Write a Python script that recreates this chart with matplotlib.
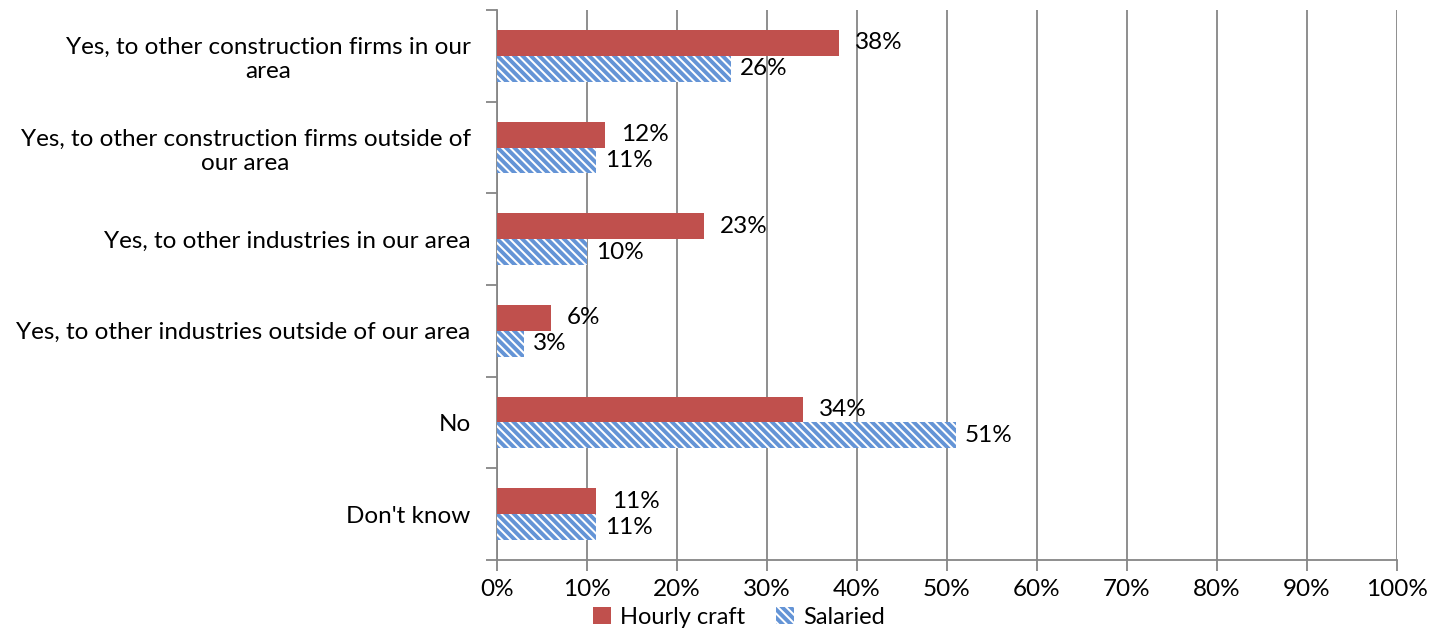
import numpy as np
import matplotlib.pyplot as plt
from matplotlib.ticker import FixedLocator, PercentFormatter

plt.rcParams['font.family'] = ['Lato', 'DejaVu Sans']
plt.rcParams['hatch.linewidth'] = 2.8

# survey answers, top to bottom
categories = ['Yes, to other construction firms in our\narea',
              'Yes, to other construction firms outside of\nour area',
              'Yes, to other industries in our area',
              'Yes, to other industries outside of our area',
              'No',
              "Don't know"]
hourly = [38, 12, 23, 6, 34, 11]
salaried = [26, 11, 10, 3, 51, 11]

red = '#C0504D'
blue = '#6494D6'
fs = 17.5

fig = plt.figure(figsize=(14.45, 6.32), dpi=100)
ax = fig.add_axes([497/1445, 1-560/632, 900/1445, 550/632])

n = len(categories)
y = np.arange(n)[::-1]
h = 0.283
ax.barh(y + h/2, hourly, height=h, color=red, zorder=3, label='Hourly craft')
ax.barh(y - h/2, salaried, height=h, color='white', edgecolor=blue, hatch='\\\\\\\\',
        linewidth=0, zorder=3, label='Salaried')

for yi, v in zip(y, hourly):
    ax.text(v + 1.8, yi + h/2, f'{v}%', va='center', ha='left', fontsize=fs)
for yi, v in zip(y, salaried):
    ax.text(v + 1.0, yi - h/2, f'{v}%', va='center', ha='left', fontsize=fs)

ax.set_xlim(0, 100)
ax.set_ylim(-0.5, n - 0.5)
ax.set_xticks(np.arange(0, 101, 10))
ax.xaxis.set_major_formatter(PercentFormatter(decimals=0))
ax.grid(axis='x', color='#868686', linewidth=1.3, zorder=0)

ax.set_yticks(y)
ax.set_yticklabels(categories, fontsize=fs, ha='right', multialignment='center')
ax.yaxis.set_major_locator(FixedLocator(y))
ax.yaxis.set_minor_locator(FixedLocator(np.arange(n + 1) - 0.5))
ax.tick_params(axis='y', which='major', length=0, pad=19)
ax.tick_params(axis='y', which='minor', length=8, width=1.3, color='#868686')
ax.tick_params(axis='x', length=8, width=1.3, color='#868686', labelsize=fs, pad=6)

for s in ['top', 'right']:
    ax.spines[s].set_visible(False)
for s in ['left', 'bottom']:
    ax.spines[s].set_color('#868686')
    ax.spines[s].set_linewidth(1.3)

fig.legend(*ax.get_legend_handles_labels(), loc='lower center',
           bbox_to_anchor=(739/1445, -0.012), ncol=2, frameon=False,
           fontsize=17, handlelength=0.75, handleheight=0.75, handletextpad=0.4,
           columnspacing=1.3, borderpad=0)

fig.savefig('out.png', dpi=100)
